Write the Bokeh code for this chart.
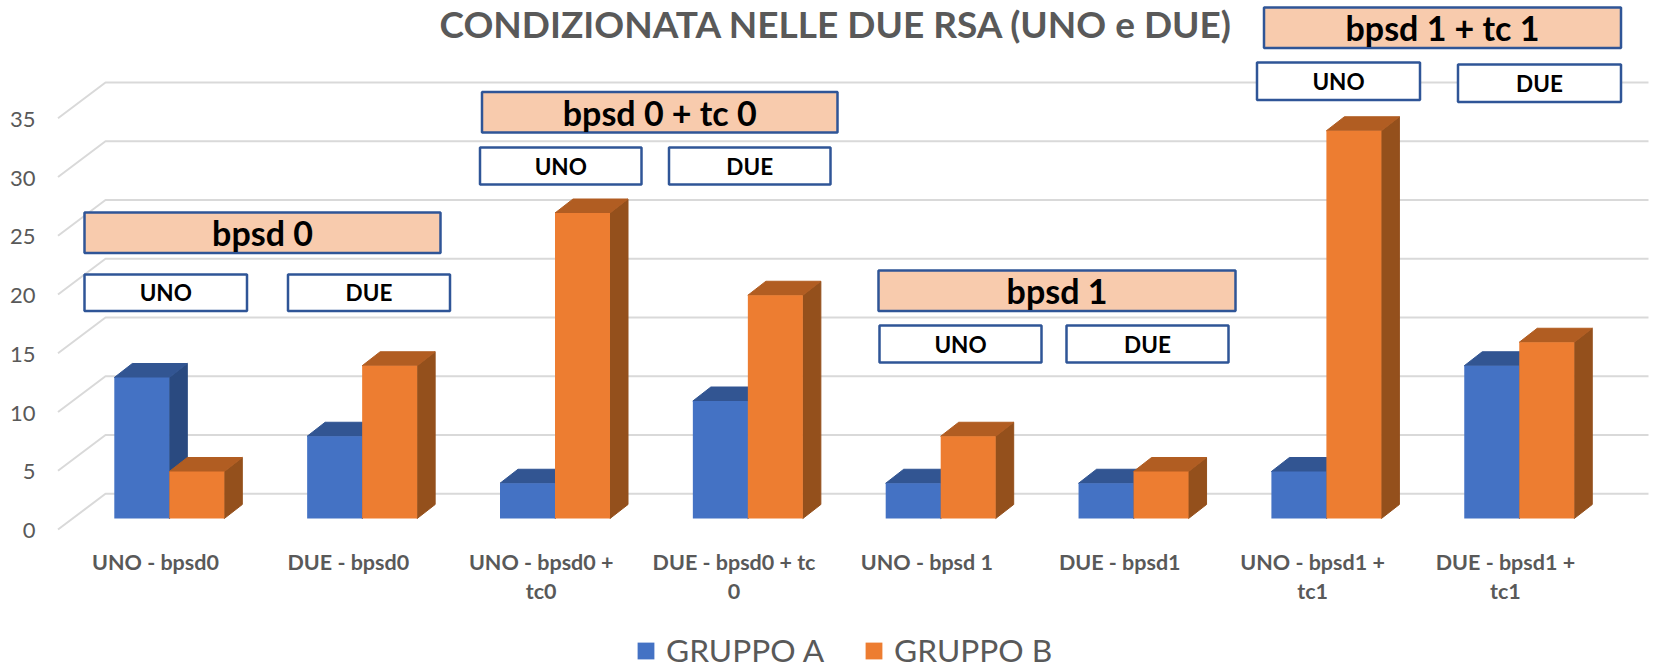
from bokeh.plotting import figure
from bokeh.embed import file_html
from bokeh.resources import INLINE
from bokeh.models import Range1d, LinearAxis, FixedTicker, Legend, LegendItem, Label
from bokeh.core.properties import value

# ---- data ----
categories = ["UNO - bpsd0", "DUE - bpsd0", "UNO - bpsd0 +\ntc0", "DUE - bpsd0 + tc\n0",
              "UNO - bpsd 1", "DUE - bpsd1", "UNO - bpsd1 +\ntc1", "DUE - bpsd1 +\ntc1"]
gruppo_a = [12, 7, 3, 10, 3, 3, 4, 13]
gruppo_b = [4, 13, 26, 19, 7, 4, 33, 15]
y_ticks = [0, 5, 10, 15, 20, 25, 30, 35]
series_names = ["GRUPPO A", "GRUPPO B"]
title_text = "CONDIZIONATA NELLE DUE RSA (UNO e DUE)"

# text boxes laid over the chart: (label, left, right, top, bottom) in page pixels
header_boxes = [("bpsd 0", 84, 440, 212, 252.5),
                ("bpsd 0 + tc 0", 481.5, 837, 91.5, 132),
                ("bpsd 1", 878, 1235, 270, 310.5),
                ("bpsd 1 + tc 1", 1263.5, 1620.5, 7, 47.5)]
sub_boxes = [("UNO", 84, 246.5, 274, 310.5), ("DUE", 287.5, 449.5, 274, 310.5),
             ("UNO", 479.5, 641, 147, 184), ("DUE", 668.5, 830, 147, 184),
             ("UNO", 879, 1041, 325, 362), ("DUE", 1066, 1228, 325, 362),
             ("UNO", 1256.5, 1419.5, 62, 99.5), ("DUE", 1457.5, 1620.5, 64, 101.5)]

# ---- geometry ----
FONT = "Lato"
TXT = "#595959"
X0, X1, Y0, Y1 = 50, 1653, 671, 0          # frame in page pixels
GX, GS = 168.8, 192.85                     # first group centre, group spacing (px)
BASE, PPU = 518, 11.75                     # value 0 baseline, pixels per unit
BW = 55 / GS                               # bar width in group units
DX, DY = 18 / GS, 14 / PPU                 # bar depth
BACK_X0 = (105 - GX) / GS                  # back wall left edge
FRONT_X0 = (57.5 - GX) / GS                # floor front left edge
RIGHT_X = (1648 - GX) / GS                 # back wall right edge
BACK_DV = (BASE - 493.3) / PPU             # back wall lift
FRONT_DV = (BASE - 529) / PPU

p = figure(frame_width=X1 - X0, frame_height=Y0 - Y1, output_backend="svg", toolbar_location=None,
           x_range=Range1d((X0 - GX) / GS, (X1 - GX) / GS),
           y_range=Range1d((BASE - Y0) / PPU, (BASE - Y1) / PPU),
           x_axis_location=None, y_axis_location=None,
           min_border_left=X0, min_border_right=0, min_border_top=0, min_border_bottom=0,
           background_fill_color="white", border_fill_color="white", outline_line_color=None)
p.grid.visible = False

p.extra_x_ranges["px"] = Range1d(X0, X1)
p.extra_y_ranges["px"] = Range1d(Y0, Y1)
p.extra_x_ranges["cat"] = Range1d((X0 - 155) / GS, (X1 - 155) / GS)
p.extra_y_ranges["val"] = Range1d((530 - Y0) / PPU, (530 - Y1) / PPU)

# axes
ya = LinearAxis(y_range_name="val", ticker=FixedTicker(ticks=y_ticks))
ya.axis_line_color = None
ya.major_tick_line_color = None
ya.minor_tick_line_color = None
ya.major_tick_out = 0
ya.major_label_standoff = 15
ya.major_label_text_font = FONT
ya.major_label_text_font_size = "22px"
ya.major_label_text_color = TXT
p.add_layout(ya, "left")

xa = LinearAxis(x_range_name="cat", ticker=FixedTicker(ticks=list(range(len(categories)))),
                major_label_overrides={i: c for i, c in enumerate(categories)},
                fixed_location=(BASE - 543) / PPU)
xa.axis_line_color = None
xa.major_tick_line_color = None
xa.minor_tick_line_color = None
xa.major_tick_out = 0
xa.major_label_standoff = 5
xa.major_label_text_font = FONT
xa.major_label_text_font_style = "bold"
xa.major_label_text_font_size = "21.5px"
xa.major_label_text_color = TXT
xa.major_label_text_line_height = 1.13
p.add_layout(xa, "below")

# wall and floor gridlines
glx = [[FRONT_X0, BACK_X0, RIGHT_X] for _ in y_ticks]
gly = [[v + FRONT_DV, v + BACK_DV, v + BACK_DV] for v in y_ticks]
p.multi_line(glx, gly, line_color="#d9d9d9", line_width=2)


def bars(vals, left_off, front, top, side):
    lefts = [i + left_off for i in range(len(vals))]
    rights = [l + BW for l in lefts]
    p.patches([[r, r, r + DX, r + DX] for r in rights],
              [[0, v, v + DY, DY] for v in vals],
              fill_color=side, line_color=side)
    p.patches([[l, r, r + DX, l + DX] for l, r in zip(lefts, rights)],
              [[v, v, v + DY, v + DY] for v in vals],
              fill_color=top, line_color=top)
    return p.quad(left=lefts, right=rights, bottom=[0] * len(vals), top=vals,
                  fill_color=front, line_color=None)


ra = bars(gruppo_a, -BW, "#4472C4", "#325592", "#2A4A80")
rb = bars(gruppo_b, 0, "#ED7D31", "#B15D22", "#94501C")

# boxes
for boxes, fill, size in ((header_boxes, "#F8CBAD", "34px"), (sub_boxes, "white", "22.5px")):
    p.quad(left=[b[1] for b in boxes], right=[b[2] for b in boxes],
           top=[b[3] for b in boxes], bottom=[b[4] for b in boxes],
           x_range_name="px", y_range_name="px",
           fill_color=fill, line_color="#2F5597", line_width=2.5)
    p.text(x=[(b[1] + b[2]) / 2 for b in boxes], y=[(b[3] + b[4]) / 2 for b in boxes],
           text=[b[0] for b in boxes], x_range_name="px", y_range_name="px",
           text_font=value(FONT), text_font_style="bold", text_font_size=size,
           text_color="black", text_align="center", text_baseline="middle")

# title
p.add_layout(Label(x=836, y=23, x_range_name="px", y_range_name="px",
                   text=title_text, text_font=FONT, text_font_style="bold",
                   text_font_size="37px", text_color=TXT, text_align="center",
                   text_baseline="middle"))

# legend
leg = Legend(items=[LegendItem(label=series_names[0], renderers=[ra]),
                    LegendItem(label=series_names[1], renderers=[rb])],
             orientation="horizontal", location=(635 - X0, 2), border_line_color=None,
             background_fill_alpha=0, glyph_width=21, glyph_height=21,
             label_text_font=FONT, label_text_font_size="31.7px", label_text_color=TXT,
             spacing=39, label_standoff=10, margin=0, padding=0)
p.add_layout(leg, "center")

open("out.html", "w").write(file_html(p, INLINE))
